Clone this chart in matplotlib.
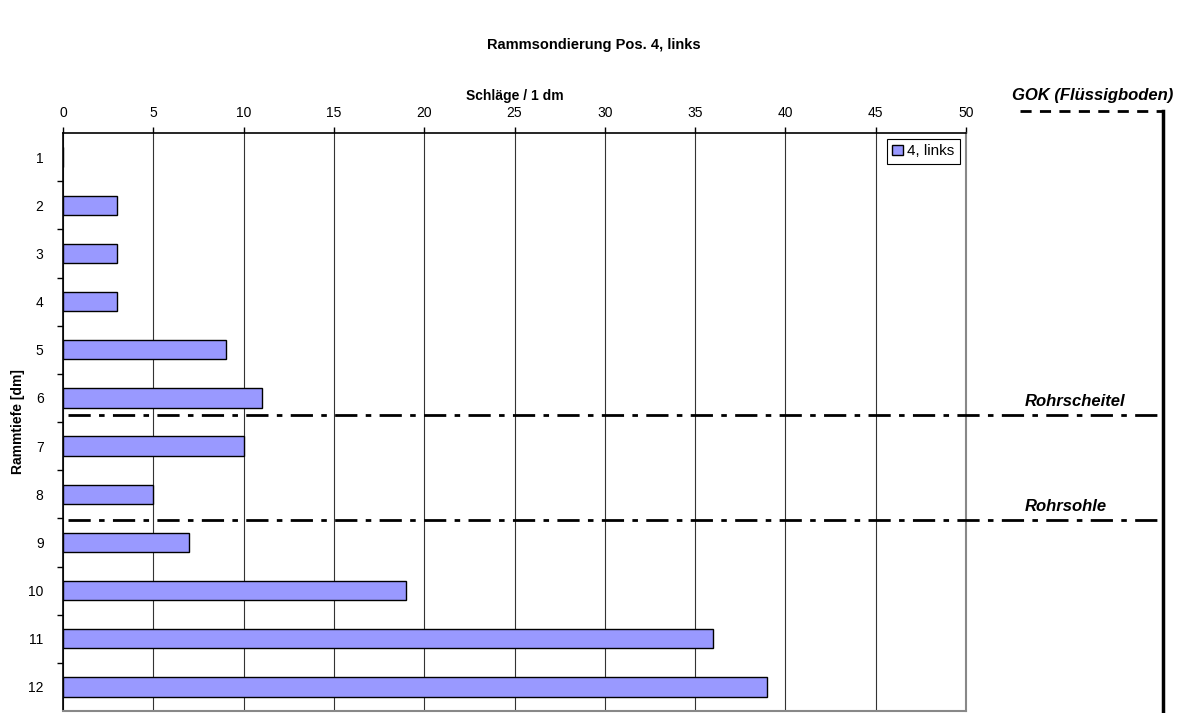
import matplotlib
matplotlib.use("Agg")
import matplotlib.pyplot as plt
from matplotlib.ticker import MultipleLocator, FixedLocator

plt.rcParams['font.family'] = ['Liberation Sans', 'DejaVu Sans']

depths = [1, 2, 3, 4, 5, 6, 7, 8, 9, 10, 11, 12]
blows = [0, 3, 3, 3, 9, 11, 10, 5, 7, 19, 36, 39]
series_name = "4, links"
title = "Rammsondierung Pos. 4, links"
xlabel = "Schläge / 1 dm"
ylabel = "Rammtiefe [dm]"
rohrscheitel = 6.35
rohrsohle = 8.53
gok = 0.045

W, H = 1187, 713
fig = plt.figure(figsize=(W / 100, H / 100), dpi=100)
L, R, T, B = 63, 966, 133, 711
ax = fig.add_axes([L / W, 1 - B / H, (R - L) / W, (B - T) / H])

ax.barh(depths, blows, height=0.4, color='#9999ff', edgecolor='black',
        linewidth=1.0, label=series_name, zorder=3)
ax.set_xlim(0, 50)
ax.set_ylim(12.5, 0.5)
ax.xaxis.set_major_locator(MultipleLocator(5))
ax.xaxis.tick_top()
ax.xaxis.set_label_position('top')
ax.set_yticks(depths)
ax.yaxis.set_minor_locator(FixedLocator([d + 0.5 for d in depths[:-1]]))
ax.tick_params(axis='y', which='major', length=0, labelsize=10, pad=14)
ax.tick_params(axis='y', which='minor', length=4, width=1, direction='out')
ax.tick_params(axis='x', which='major', length=4, width=1, direction='out', labelsize=10, pad=5)
ax.grid(axis='x', color='#333333', linewidth=0.8, zorder=0)
for s in ['left', 'top']:
    ax.spines[s].set_color('black')
    ax.spines[s].set_linewidth(1.2)
for s in ['right', 'bottom']:
    ax.spines[s].set_color('#888888')
    ax.spines[s].set_linewidth(1.5)

ax.set_xlabel(xlabel, fontsize=10, fontweight='bold', labelpad=5)
fig.text(18 / W, 1 - 422 / H, ylabel, rotation=90, ha='center', va='center',
         fontsize=10, fontweight='bold')
fig.text(594 / W, 1 - 45 / H, title, ha='center', va='center', fontsize=10.5, fontweight='bold')

leg = ax.legend(loc='upper right', fontsize=11, frameon=True, fancybox=False,
                edgecolor='black', borderpad=0.35, handlelength=0.7, handleheight=0.7,
                handletextpad=0.3, borderaxespad=0.4, framealpha=1)
leg.get_frame().set_linewidth(0.8)

# reference lines extending right of plot area
xend = (1163 - L) / (R - L) * 50
ax.plot([0.3, xend - 0.3], [rohrscheitel, rohrscheitel], color='black', lw=2,
        ls=(0, (8, 3, 2, 3)), clip_on=False, zorder=4)
ax.plot([0.3, xend], [rohrsohle, rohrsohle], color='black', lw=2,
        ls=(0, (8, 3, 2, 3)), clip_on=False, zorder=4)
xg0 = (1020 - L) / (R - L) * 50
ax.plot([xg0, xend], [gok, gok], color='black', lw=2, ls=(0, (4, 3)), clip_on=False)
ax.plot([xend, xend], [gok, 12.6], color='black', lw=2.5, clip_on=False)

xt = (1025 - L) / (R - L) * 50
ax.text(xt, rohrscheitel - 0.13, "Rohrscheitel", fontsize=12, fontweight='bold',
        fontstyle='italic', va='bottom', ha='left', clip_on=False)
ax.text(xt, rohrsohle - 0.13, "Rohrsohle", fontsize=12, fontweight='bold',
        fontstyle='italic', va='bottom', ha='left', clip_on=False)
ax.text((1093 - L) / (R - L) * 50, gok - 0.17, "GOK (Flüssigboden)", fontsize=12,
        fontweight='bold', fontstyle='italic', va='bottom', ha='center', clip_on=False)

fig.savefig('out.png', dpi=100)
